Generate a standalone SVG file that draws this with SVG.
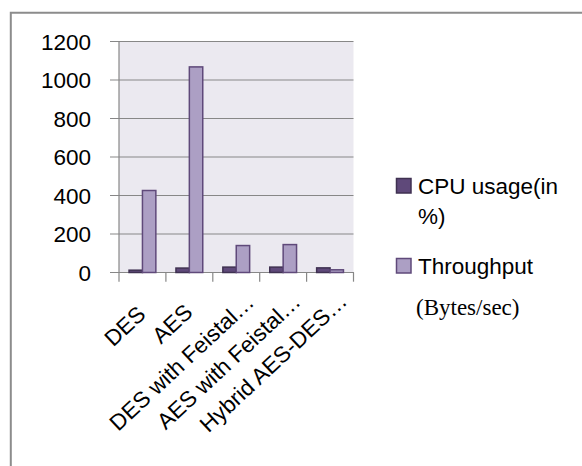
<svg xmlns="http://www.w3.org/2000/svg" width="582" height="466" viewBox="0 0 582 466">
  <style>
    .lbl { font-family: "Liberation Sans", Arial, sans-serif; font-size: 22.5px; fill: #000; }
    .num { text-anchor: end; }
    .cat { text-anchor: end; }
    .note { font-family: "Liberation Serif", "Times New Roman", serif; font-size: 23px; fill: #000; }
    .grid { stroke: #878787; stroke-width: 1.2; fill: none; }
    .cpu { fill: #5f497a; stroke: #3f3151; stroke-width: 1.5; }
    .thr { fill: #ac9fc4; stroke: #5f497a; stroke-width: 1.5; }
  </style>

  <rect width="582" height="466" fill="#ffffff"/>

  <!-- chart frame (open on the right and bottom) -->
  <g id="frame">
    <path d="M10.8,470 V12.8 H590" fill="none" stroke="#8c8c8c" stroke-width="2"/>
  </g>

  <!-- plot area with gridlines and axes -->
  <g id="plot">
    <rect x="119" y="41.5" width="234.5" height="231" fill="#ebe9f0"/>
    <g class="grid">
      <line x1="110" y1="41.5" x2="353.5" y2="41.5"/>
      <line x1="110" y1="80" x2="353.5" y2="80"/>
      <line x1="110" y1="118.5" x2="353.5" y2="118.5"/>
      <line x1="110" y1="157" x2="353.5" y2="157"/>
      <line x1="110" y1="195.5" x2="353.5" y2="195.5"/>
      <line x1="110" y1="234" x2="353.5" y2="234"/>
      <line x1="110" y1="272.5" x2="354" y2="272.5"/>
      <line x1="119" y1="41.5" x2="119" y2="281.7"/>
      <line x1="165.9" y1="272.5" x2="165.9" y2="281.7"/>
      <line x1="212.8" y1="272.5" x2="212.8" y2="281.7"/>
      <line x1="259.7" y1="272.5" x2="259.7" y2="281.7"/>
      <line x1="306.6" y1="272.5" x2="306.6" y2="281.7"/>
      <line x1="353.5" y1="272.5" x2="353.5" y2="281.7"/>
    </g>
  </g>

  <!-- series: CPU usage and throughput -->
  <g id="bars">
    <rect class="cpu" x="129.05" y="270.19" width="13.4" height="2.31"/>
    <rect class="thr" x="142.45" y="190.5" width="13.4" height="82"/>
    <rect class="cpu" x="175.95" y="268.07" width="13.4" height="4.43"/>
    <rect class="thr" x="189.35" y="66.9" width="13.4" height="205.6"/>
    <rect class="cpu" x="222.85" y="267.11" width="13.4" height="5.39"/>
    <rect class="thr" x="236.25" y="245.55" width="13.4" height="26.95"/>
    <rect class="cpu" x="269.75" y="267.11" width="13.4" height="5.39"/>
    <rect class="thr" x="283.15" y="244.59" width="13.4" height="27.91"/>
    <rect class="cpu" x="316.65" y="267.88" width="13.4" height="4.62"/>
    <rect class="thr" x="330.05" y="269.8" width="13.4" height="2.7"/>
  </g>

  <!-- value axis labels -->
  <g id="value-axis" class="lbl num">
    <text x="91" y="49.7">1200</text>
    <text x="91" y="88.2">1000</text>
    <text x="91" y="126.7">800</text>
    <text x="91" y="165.2">600</text>
    <text x="91" y="203.7">400</text>
    <text x="91" y="242.2">200</text>
    <text x="91" y="280.7">0</text>
  </g>

  <!-- category axis labels -->
  <g id="category-axis" class="lbl cat">
    <text transform="translate(147,316) rotate(-43)">DES</text>
    <text transform="translate(194,314) rotate(-43)">AES</text>
    <text transform="translate(255.5,304) rotate(-43)">DES with Feistal…</text>
    <text transform="translate(302,303.5) rotate(-43)">AES with Feistal…</text>
    <text transform="translate(348.5,303) rotate(-43)">Hybrid AES-DES…</text>
  </g>

  <!-- legend -->
  <g id="legend">
    <g id="legend-cpu">
      <rect class="cpu" x="396.5" y="178.5" width="14.5" height="14.5"/>
      <text class="lbl" x="418" y="193.5">CPU usage(in</text>
      <text class="lbl" x="418" y="224">%)</text>
    </g>
    <g id="legend-throughput">
      <rect class="thr" x="396.5" y="258.5" width="14.5" height="14.5"/>
      <text class="lbl" x="418" y="273.5">Throughput</text>
    </g>
    <text class="note" x="416" y="315">(Bytes/sec)</text>
  </g>
</svg>
